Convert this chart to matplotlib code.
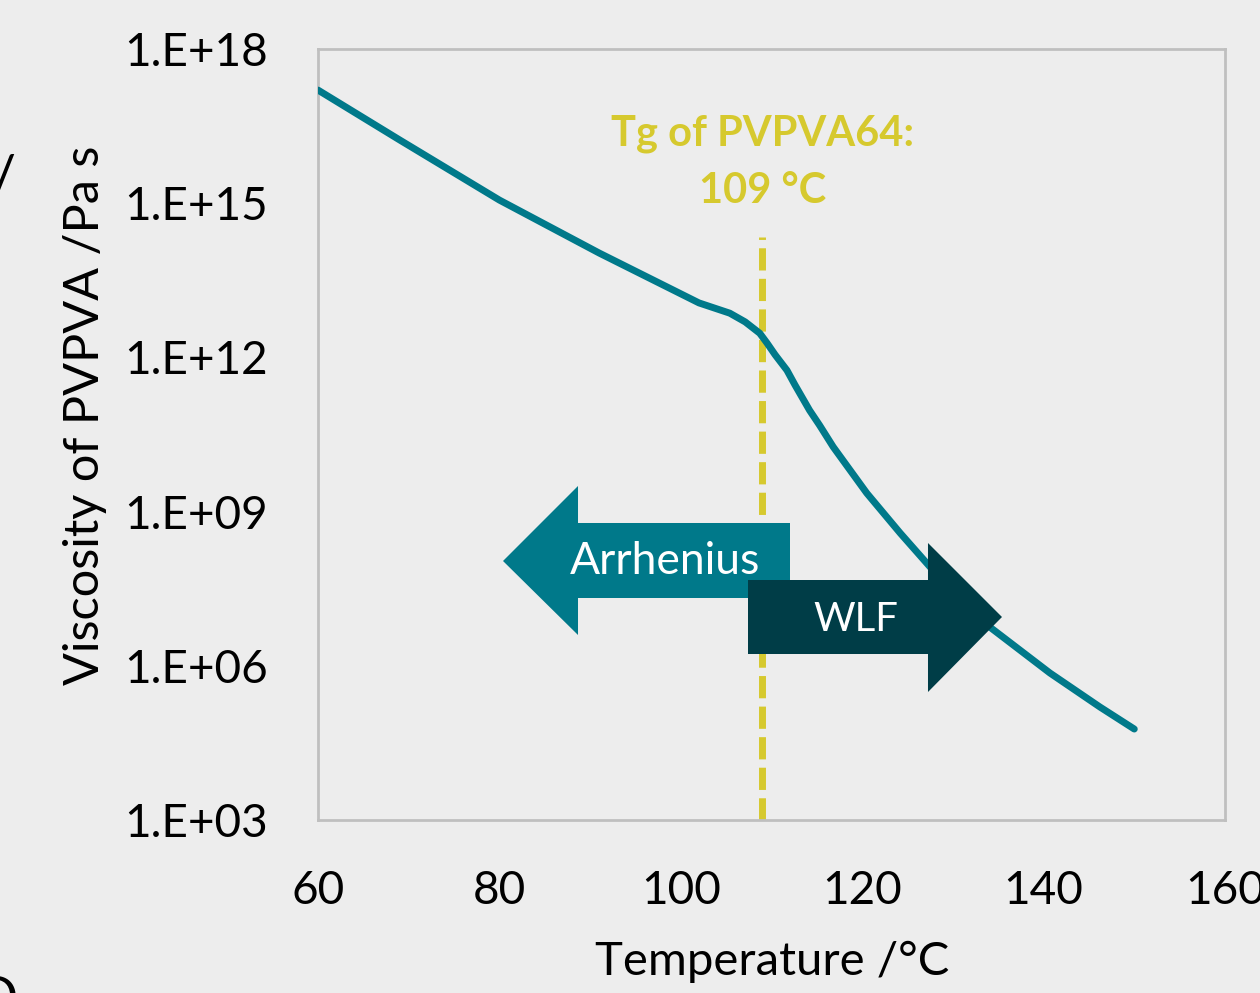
import numpy as np
import matplotlib.pyplot as plt
from matplotlib.patches import Polygon

# data
temperature = [60, 69, 80, 91, 102, 105.4, 107.1, 108.7, 109.5, 110.4, 111.7, 112.6, 114.2, 115.3,
               116.8, 120.5, 124.2, 127.5, 134.1, 140.7, 146.2, 150]
log_viscosity = [17.20, 16.23, 15.06, 14.03, 13.06, 12.86, 12.69, 12.47, 12.28, 12.05, 11.75, 11.46,
                 10.97, 10.68, 10.26, 9.36, 8.58, 7.92, 6.75, 5.86, 5.20, 4.77]
tg = 109
y_ticks = [1e3, 1e6, 1e9, 1e12, 1e15, 1e18]
y_tick_labels = ["1.E+03", "1.E+06", "1.E+09", "1.E+12", "1.E+15", "1.E+18"]
x_ticks = [60, 80, 100, 120, 140, 160]

teal = "#00798A"
dark = "#003D47"
yellow = "#D6C92E"
bg = "#EDEDED"

plt.rcParams['font.family'] = ['Lato', 'DejaVu Sans']

fig = plt.figure(figsize=(12.6, 9.93), dpi=100, facecolor=bg)
ax = fig.add_axes([0.2524, 0.1742, 0.7198, 0.7765], facecolor=bg)

viscosity = 10 ** np.array(log_viscosity)
ax.plot(temperature, viscosity, color=teal, lw=5, solid_capstyle='round',
        solid_joinstyle='round', zorder=3)
ax.set_yscale('log')
ax.set_xlim(60, 160)
ax.set_ylim(1e3, 1e18)

# Tg marker
ax.plot([tg, tg], [1e3, 10 ** 14.34], color=yellow, lw=5, dashes=(3.2, 1.2), zorder=2)
ax.text(tg, 10 ** 15.8, "Tg of PVPVA64:\n109 \u00b0C", color=yellow, fontsize=30,
        fontweight='bold', ha='center', va='center', linespacing=1.6)

# Arrhenius / WLF arrows (axes fraction coordinates)
def fx(px):
    return (px - 318) / 907

def fy(py):
    return (820 - py) / 771

arr = [(503, 561), (578, 486), (578, 523), (790, 523), (790, 598), (578, 598), (578, 635)]
wlf = [(748, 580), (928, 580), (928, 543), (1002, 617), (928, 692), (928, 654), (748, 654)]
ax.add_patch(Polygon([(fx(x), fy(y)) for x, y in arr], closed=True, transform=ax.transAxes,
                     facecolor=teal, edgecolor='none', zorder=4))
ax.add_patch(Polygon([(fx(x), fy(y)) for x, y in wlf], closed=True, transform=ax.transAxes,
                     facecolor=dark, edgecolor='none', zorder=5))
ax.text(fx(665), fy(562), "Arrhenius", color='white', fontsize=32, ha='center', va='center',
        transform=ax.transAxes, zorder=6)
ax.text(fx(856), fy(619), "WLF", color='white', fontsize=29, ha='center', va='center',
        transform=ax.transAxes, zorder=6)

ax.set_yticks(y_ticks)
ax.set_yticklabels(y_tick_labels)
ax.minorticks_off()
ax.set_xticks(x_ticks)
ax.tick_params(axis='both', length=0, labelsize=33, colors='black')
ax.tick_params(axis='y', pad=36)
ax.tick_params(axis='x', pad=36)
for s in ax.spines.values():
    s.set_color("#BFBFBF")
    s.set_linewidth(2)

fig.text(772 / 1260, 1 - 962 / 993, "Temperature /\u00b0C", fontsize=34, ha='center', va='center')
fig.text(85 / 1260, 1 - 415 / 993, "Viscosity of PVPVA /Pa s", fontsize=35, rotation=90,
         ha='center', va='center')

# fragments of neighbouring text cut off at the left edge
fig.text(15 / 1260, 1 - 180 / 993, "/", fontsize=40, ha='right', va='center')
fig.text(18 / 1260, 1 - 1000 / 993, "D", fontsize=40, ha='right', va='center')

fig.savefig("out.png", dpi=100, facecolor=bg)
